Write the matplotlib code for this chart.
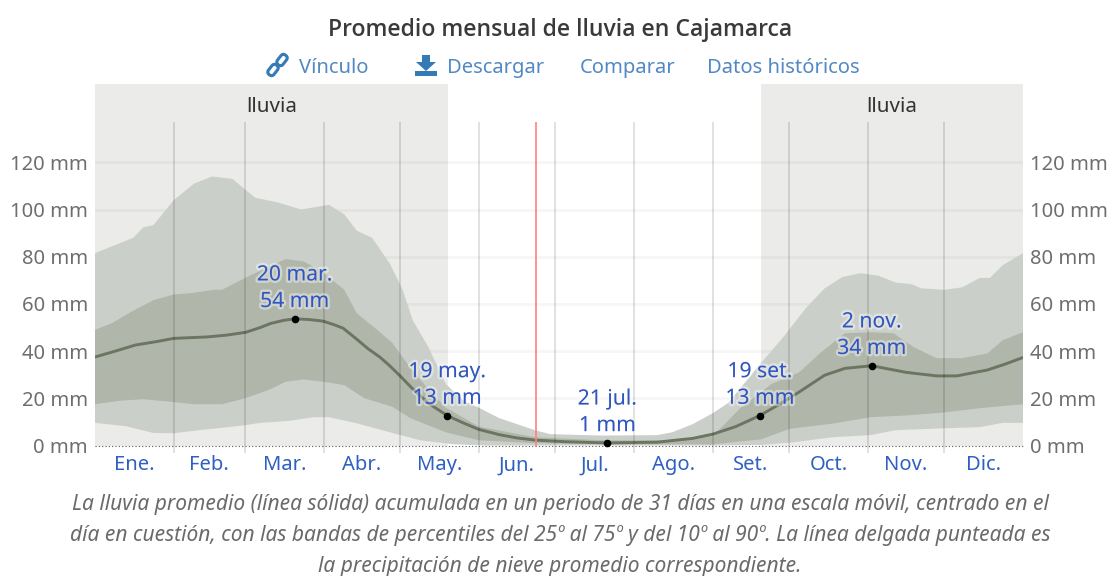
import matplotlib
matplotlib.use('Agg')
import matplotlib.pyplot as plt
import matplotlib.patheffects as pe
from matplotlib.patches import Polygon, FancyBboxPatch
from matplotlib.transforms import Affine2D

plt.rcParams['font.family'] = ['Noto Sans', 'DejaVu Sans']

W, H = 1109, 576

# month boundaries and labels (day of year)
month_starts = [31, 59, 90, 120, 151, 181, 212, 243, 273, 304, 334]
month_centers = [15.5, 45, 74.5, 105, 135.5, 166, 196.5, 227.5, 258, 288.5, 319, 349.5]
month_labels = ['Ene.', 'Feb.', 'Mar.', 'Abr.', 'May.', 'Jun.', 'Jul.', 'Ago.', 'Set.', 'Oct.', 'Nov.', 'Dic.']
y_ticks = [0, 20, 40, 60, 80, 100, 120]
today = 173.5

# percentile bands and mean
p90_days = [0, 15, 19, 23, 31, 39, 46, 54, 63, 72, 81, 92, 98, 103, 109, 116, 121, 125, 131, 138, 145, 151, 159,
            173, 179, 200, 221, 227, 235, 243, 249, 262, 270, 280, 287, 294, 301, 308, 315, 321, 325, 334, 341,
            348, 352, 357, 365]
p90_vals = [81.5, 88, 92.5, 93.4, 104, 111, 114, 113, 105, 103, 100, 102, 98, 91, 88, 77, 66, 53, 42, 26, 19, 16, 11.6,
            6.5, 4.8, 4.2, 4.4, 5.6, 9, 13.7, 18, 35, 45, 58.7, 66.6, 71.4, 73, 72, 69, 68.4, 66.6, 66, 67,
            71, 71, 76.4, 81.5]

p75_days = [0, 7, 14, 23, 31, 38, 47, 50, 59, 68, 75, 82, 89, 98, 103, 111, 117, 124, 131, 138, 151, 173, 200, 225, 243,
            254, 266, 277, 285, 295, 305, 314, 322, 331, 341, 351, 357, 365]
p75_vals = [49, 52, 56.5, 61.6, 64, 64.6, 66, 66, 71, 75.6, 79, 78, 74, 66, 56, 49, 43.4, 33, 24, 16, 8, 3.5, 2.2, 2.2, 4,
            16, 26, 31, 39, 47.6, 48, 47.6, 41.7, 37, 37, 39, 44.6, 48]

mean_days = [0, 8, 16, 24, 31, 44, 52, 59.4, 65, 69, 74, 78.5, 84, 89.7, 94, 97.6, 103, 107.4, 112, 115.7, 120, 124.3,
             131, 138.5, 145, 151, 159, 166, 173, 185, 201.5, 221, 235, 243, 252, 261.5, 270, 277, 287, 295, 305.5,
             319, 331, 339, 351, 358, 365]
mean_vals = [37.5, 40, 42.6, 44, 45.4, 46, 46.8, 48, 50, 51.7, 53, 53.7, 53.4, 52.7, 51.2, 49.7, 45, 41, 37.5, 34, 29.5, 24.7,
             18, 12.7, 9.5, 6.8, 4.6, 3.2, 2.3, 1.6, 1.1, 1.4, 3, 4.8, 8, 12.7, 18, 22.7, 29.8, 32.7, 33.8,
             31, 29.5, 29.5, 32, 34.5, 37.3]

p25_days = [0, 10, 19, 31, 39, 50, 59, 68, 75, 82, 90, 98, 106, 117, 124, 138, 151, 173, 200, 243, 262, 273, 291, 305,
            320, 334, 348, 365]
p25_vals = [17.5, 19, 19.6, 18.4, 17.5, 17.5, 20, 23.4, 27, 28, 27, 25.6, 20, 16.4, 11.6, 5.6, 2.2, 1, 0.5, 0.5, 2.6, 7, 9.4, 12,
            12.8, 14, 15.8, 17.5]

p10_days = [0, 12, 23, 31, 41, 50, 59, 65, 76, 86, 92, 103, 116, 128, 141, 154, 243, 262, 275, 290, 305, 315, 334, 348, 357, 365]
p10_vals = [9.6, 8.2, 5.3, 5.2, 6.5, 7.5, 8.6, 9.6, 10.4, 12, 12, 9.4, 5.6, 2.2, 0.5, 0, 0, 0.2, 1.4, 3.5, 4.4, 6.5, 7.3, 7.8, 9.6, 9.6]

# rainy season shading (day of year)
wet_spans = [(0, 139), (262, 365)]
wet_label = 'lluvia'

# labelled points
point_days = [78.5, 138.5, 201.5, 261.5, 305.5]
point_vals = [53.7, 12.7, 1.1, 12.7, 33.8]
point_labels = ['20 mar.\n54 mm', '19 may.\n13 mm', '21 jul.\n1 mm', '19 set.\n13 mm', '2 nov.\n34 mm']

title = 'Promedio mensual de lluvia en Cajamarca'
links = ['Vínculo', 'Descargar', 'Comparar', 'Datos históricos']
link_x = [299, 447, 580, 707]
caption = ['La lluvia promedio (línea sólida) acumulada en un periodo de 31 días en una escala móvil, centrado en el',
           'día en cuestión, con las bandas de percentiles del 25º al 75º y del 10º al 90º. La línea delgada punteada es',
           'la precipitación de nieve promedio correspondiente.']
caption_y = [510, 541, 572]


def merged(days_a, vals_a, days_b, vals_b):
    # closed polygon between two outlines
    return list(zip(days_a, vals_a)) + list(zip(days_b[::-1], vals_b[::-1]))


fig = plt.figure(figsize=(W / 100, H / 100), dpi=100)
ax = fig.add_axes([95 / W, 1 - 445.5 / H, 928 / W, 361.5 / H])
ax.set_xlim(0, 365)
ax.set_ylim(0, 153.2)
for s in ax.spines.values():
    s.set_visible(False)

for a, b in wet_spans:
    ax.axvspan(a, b, color='#ebebea', lw=0, zorder=0)
    ax.text((a + b) / 2, 143.4, wet_label, ha='center', va='center', fontsize=14.8, color='#333333')

for v in y_ticks[1:]:
    ax.axhline(v, color='black', alpha=0.035, lw=2, zorder=1)

ax.add_patch(Polygon(merged(p90_days, p90_vals, p10_days, p10_vals), closed=True, fc='#cbcfc9', lw=0, zorder=2))
ax.add_patch(Polygon(merged(p75_days, p75_vals, p25_days, p25_vals), closed=True, fc='#b1b6aa', lw=0, zorder=3))
ax.plot(mean_days, mean_vals, color='#6b7561', lw=2.1, zorder=4, solid_capstyle='round')

ax.vlines(month_starts, -3.3, 137, color='black', alpha=0.12, lw=1.4, zorder=5, clip_on=False)
ax.vlines(today, 0, 137, color='#ff8080', alpha=0.85, lw=1.4, zorder=5)
ax.axhline(0, color='#555555', lw=0.8, ls=(0, (1, 2)), zorder=6, clip_on=False)

ax.scatter(point_days, point_vals, s=20, color='black', zorder=7, clip_on=False)
halo = [pe.withStroke(linewidth=3.5, foreground='#ffffff', alpha=0.4)]
for d, v, t in zip(point_days, point_vals, point_labels):
    ax.annotate(t, (d, v), xytext=(0, 22), textcoords='offset points', ha='center', va='center',
                fontsize=15.2, color='#2f55c0', linespacing=1.35, path_effects=halo, zorder=8)

ax.set_yticks(y_ticks)
ax.set_yticklabels([f'{v} mm' for v in y_ticks])
ax.tick_params(axis='y', length=0, pad=5, labelsize=14.5, labelcolor='#6e6e6e', labelleft=True, labelright=True)
ax.set_xticks(month_centers)
ax.set_xticklabels(month_labels)
ax.tick_params(axis='x', length=0, pad=7, labelsize=14.5, labelcolor='#2f5fc0')

# header and caption
fig.text(560 / W, 1 - 36 / H, title, ha='center', va='baseline', fontsize=16.6, family='Open Sans', fontweight='semibold', color='#3a3a3a')
for x, t in zip(link_x, links):
    fig.text(x / W, 1 - 73 / H, t, ha='left', va='baseline', fontsize=14.5, color='#5288c4')
for t, y in zip(caption, caption_y):
    fig.text(560 / W, 1 - y / H, t, ha='center', va='baseline', fontsize=15.1, style='italic', color='#6a6a6a')

# link and download icons, in pixels
icons = fig.add_axes([0, 0, 1, 1], facecolor='none')
icons.set_xlim(0, W)
icons.set_ylim(H, 0)
icons.axis('off')
icon_blue = '#337ab7'
for cx, cy in [(273, 70), (282, 60)]:
    box = FancyBboxPatch((cx - 6, cy - 3.5), 12, 7, boxstyle='round,pad=0,rounding_size=3.4', fc='none', ec=icon_blue, lw=2.2,
                         transform=Affine2D().rotate_deg_around(cx, cy, -52) + icons.transData)
    icons.add_patch(box)
icons.add_patch(Polygon([(422, 55), (430, 55), (430, 62), (436, 62), (426, 71), (416, 62), (422, 62)], fc=icon_blue, lw=0))
icons.add_patch(Polygon([(415, 71), (437, 71), (437, 76), (415, 76)], fc=icon_blue, lw=0))

fig.savefig('out.png', dpi=100)
